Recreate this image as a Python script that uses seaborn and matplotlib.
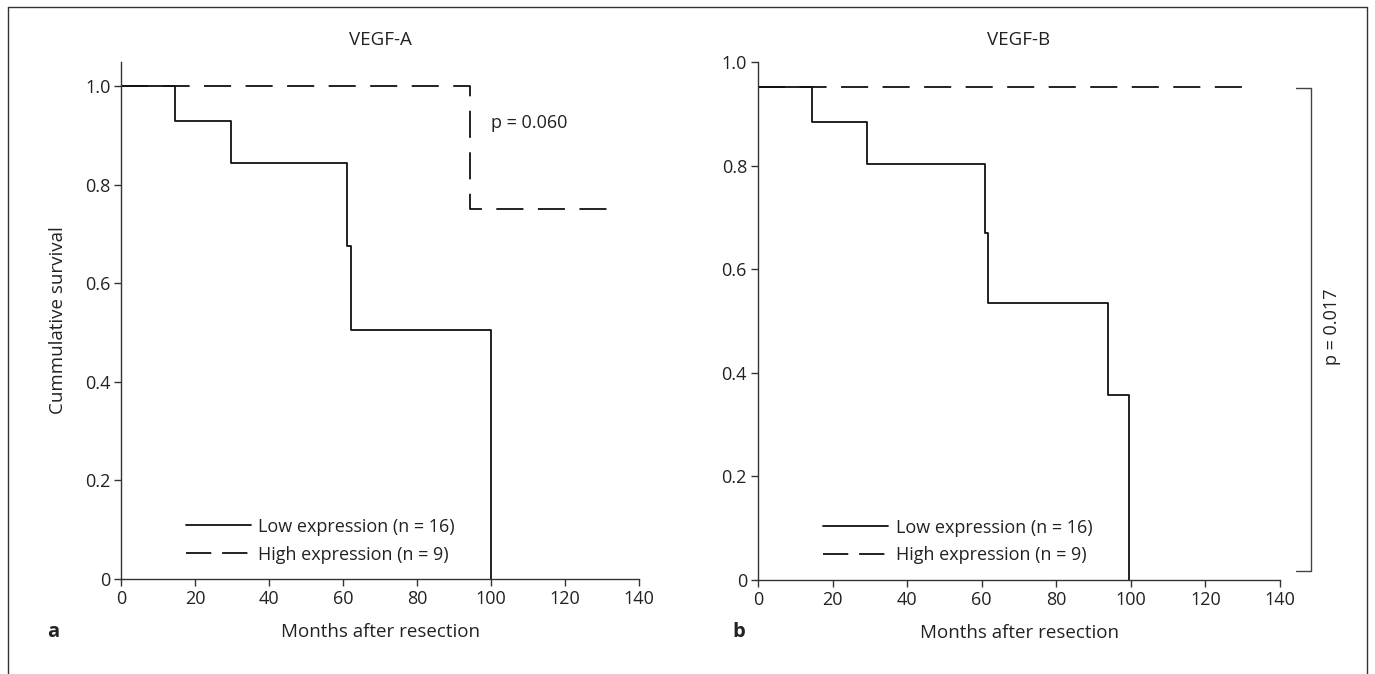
import numpy as np
import pandas as pd
import matplotlib
matplotlib.use("Agg")
import matplotlib.pyplot as plt
from matplotlib.lines import Line2D
import seaborn as sns

# Kaplan-Meier step data
a_low_months = [0, 14.6, 29.6, 61.1, 62.1, 99.9]
a_low_surv = [1.0, 0.929, 0.844, 0.675, 0.506, 0.0]
a_high_months = [0, 94.3, 133.4]
a_high_surv = [1.0, 0.750, 0.750]

b_low_months = [0, 14.5, 29.2, 60.9, 61.6, 94.0, 99.6]
b_low_surv = [0.952, 0.884, 0.803, 0.670, 0.535, 0.357, 0.0]
b_high_months = [0, 133.1]
b_high_surv = [0.952, 0.952]

x_ticks = [0, 20, 40, 60, 80, 100, 120, 140]
y_ticks = [0, 0.2, 0.4, 0.6, 0.8, 1.0]
y_tick_labels = ["0", "0.2", "0.4", "0.6", "0.8", "1.0"]

low_label = "Low expression (n = 16)"
high_label = "High expression (n = 9)"

sns.set_theme(style="ticks")
plt.rcParams["font.family"] = ["Open Sans", "DejaVu Sans"]
plt.rcParams["font.size"] = 13
plt.rcParams["text.color"] = "#222222"
plt.rcParams["axes.labelcolor"] = "#222222"
plt.rcParams["xtick.color"] = "#333333"
plt.rcParams["ytick.color"] = "#333333"
plt.rcParams["xtick.labelcolor"] = "#222222"
plt.rcParams["ytick.labelcolor"] = "#222222"

CURVE = "#111111"
AXIS = "#333333"
DASH = (15, 8)
FS = 13

fig = plt.figure(figsize=(13.75, 6.74), dpi=100)
ax_a = fig.add_axes([0.0883, 0.1409, 0.3764, 0.7671])
ax_b = fig.add_axes([0.5513, 0.1395, 0.3796, 0.7681])


def draw_panel(ax, low_t, low_s, high_t, high_s, ytop):
    low_df = pd.DataFrame({"month": low_t, "surv": low_s})
    high_df = pd.DataFrame({"month": high_t, "surv": high_s})
    sns.lineplot(data=low_df, x="month", y="surv", ax=ax, estimator=None, sort=False,
                 drawstyle="steps-post", color=CURVE, linewidth=1.3, label=low_label)
    sns.lineplot(data=high_df, x="month", y="surv", ax=ax, estimator=None, sort=False,
                 drawstyle="steps-post", color=CURVE, linewidth=1.3, label=high_label)
    ax.lines[-1].set_dashes(DASH)
    ax.set_xlim(0, 140)
    ax.set_ylim(0, ytop)
    ax.set_xticks(x_ticks)
    ax.set_yticks(y_ticks)
    ax.set_yticklabels(y_tick_labels)
    for side in ["top", "right"]:
        ax.spines[side].set_visible(False)
    for side in ["left", "bottom"]:
        ax.spines[side].set_color(AXIS)
        ax.spines[side].set_linewidth(1.0)
    ax.tick_params(direction="out", length=5, width=1.0, pad=3, labelsize=FS)
    ax.set_xlabel("Months after resection", fontsize=FS + 0.5, va="center")
    ax.xaxis.set_label_coords(0.5, -0.1025)
    ax.set_ylabel("")
    handles = [Line2D([], [], color=CURVE, lw=1.3),
               Line2D([], [], color=CURVE, lw=1.3, dashes=(14, 6))]
    ax.legend(handles, [low_label, high_label], loc="lower left",
              bbox_to_anchor=(0.125, 0.03), frameon=False, fontsize=FS,
              handlelength=3.6, handletextpad=0.4, labelspacing=0.55,
              borderpad=0, borderaxespad=0)


draw_panel(ax_a, a_low_months, a_low_surv, a_high_months, a_high_surv, 1.049)
draw_panel(ax_b, b_low_months, b_low_surv, b_high_months, b_high_surv, 1.0)

ax_a.set_ylabel("Cummulative survival", fontsize=FS + 0.5, va="center")
ax_a.yaxis.set_label_coords(-0.122, 0.5)

ax_a.set_title("VEGF-A", fontsize=FS + 0.5, y=1.026, va="center")
ax_b.set_title("VEGF-B", fontsize=FS + 0.5, y=1.027, va="center")

ax_a.text(100, 0.925, "p = 0.060", fontsize=FS, ha="left", va="center")

# significance bracket on panel b
ax_b.plot([144.2, 148.3, 148.3, 144.2], [0.951, 0.951, 0.017, 0.017],
          color="#444444", lw=1.0, clip_on=False)
ax_b.text(154, 0.49, "p = 0.017", fontsize=FS, rotation=90,
          ha="center", va="center", clip_on=False)

fig.text(52.7 / 1375, 1 - 632 / 674, "a", fontsize=FS + 1.5, fontweight="bold",
         ha="center", va="center")
fig.text(739 / 1375, 1 - 632 / 674, "b", fontsize=FS + 1.5, fontweight="bold",
         ha="center", va="center")

# outer frame (top, left, right)
for xs, ys in [([0.0058, 0.0058], [0.0, 0.9896]),
               ([0.0058, 0.9942], [0.9896, 0.9896]),
               ([0.9942, 0.9942], [0.0, 0.9896])]:
    fig.add_artist(Line2D(xs, ys, color=AXIS, lw=1.0))

fig.savefig("out.png", dpi=100)
